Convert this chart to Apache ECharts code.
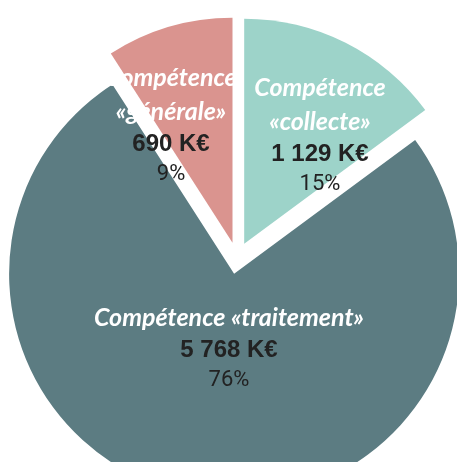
<!DOCTYPE html>
<html>
<head>
<meta charset="utf-8">
<style>
  html, body { margin: 0; padding: 0; background: #fff; }
  #main { width: 457px; height: 462px; }
</style>
<script src="https://cdn.jsdelivr.net/npm/echarts@6/dist/echarts.min.js"></script>
</head>
<body>
<div id="main"></div>
<script>
// données
var categories = ['Compétence\n«collecte»', 'Compétence «traitement»', 'Compétence\n«générale»'];
var values = [1129, 5768, 690];          // K€
var colors = ['#9dd3c9', '#5c7c82', '#da948f'];

// centre voulu de chaque bloc d'étiquette
var labelPos = [[320, 135], [229, 348], [171, 125]];

var START = 90, OFFSET = 16;

function formatK(v) {
  return String(v).replace(/\B(?=(\d{3})+(?!\d))/g, ' ') + ' K€';
}

// décalage appliqué par l'éclatement (selectedOffset) à chaque part
function sliceShift(i) {
  var total = 0, cum = 0;
  values.forEach(function (v, k) { total += v; if (k < i) cum += v; });
  var mid = (START - (cum + values[i] / 2) / total * 360) * Math.PI / 180;
  return [Math.cos(mid) * OFFSET, -Math.sin(mid) * OFFSET];
}

function Chart_1() {
  var chart = echarts.init(document.getElementById('main'));
  var option = {
    animation: false,
    textStyle: { fontFamily: 'Liberation Sans' },
    series: [
      {
        type: 'pie',
        center: [237, 258],
        radius: 225,
        startAngle: START,
        clockwise: true,
        selectedMode: 'multiple',
        selectedOffset: OFFSET,
        percentPrecision: 0,
        emphasis: { scale: false },
        label: {
          show: true,
          position: 'inside',
          fontFamily: 'Liberation Sans',
          formatter: function (p) {
            var lines = p.name.split('\n').map(function (t) { return '{n|' + t + '}'; });
            lines.push('{v|' + formatK(p.value) + '}');
            lines.push('{p|' + p.percent + '%}');
            return lines.join('\n');
          },
          rich: {
            n: {
              color: '#fff',
              fontFamily: 'Lato',
              fontStyle: 'italic',
              fontWeight: 'bold',
              fontSize: 25,
              lineHeight: 34,
              align: 'center'
            },
            v: {
              color: '#222',
              fontFamily: 'Liberation Sans',
              fontWeight: 'bold',
              fontSize: 24,
              lineHeight: 31,
              align: 'center'
            },
            p: {
              color: '#222',
              fontFamily: 'Roboto',
              fontSize: 22,
              lineHeight: 29,
              align: 'center'
            }
          }
        },
        labelLine: { show: false },
        labelLayout: function (params) {
          var i = params.dataIndex;
          var pos = labelPos[i];
          var s = sliceShift(i);
          var r = params.labelRect;
          return {
            dx: pos[0] - s[0] - (r.x + r.width / 2),
            dy: pos[1] - s[1] - (r.y + r.height / 2)
          };
        },
        data: categories.map(function (name, i) {
          return {
            name: name,
            value: values[i],
            selected: true,
            itemStyle: { color: colors[i] }
          };
        })
      }
    ]
  };
  chart.setOption(option);
  window.addEventListener('resize', function () {
    chart.resize();
  });
}

Chart_1();
</script>
</body>
</html>
